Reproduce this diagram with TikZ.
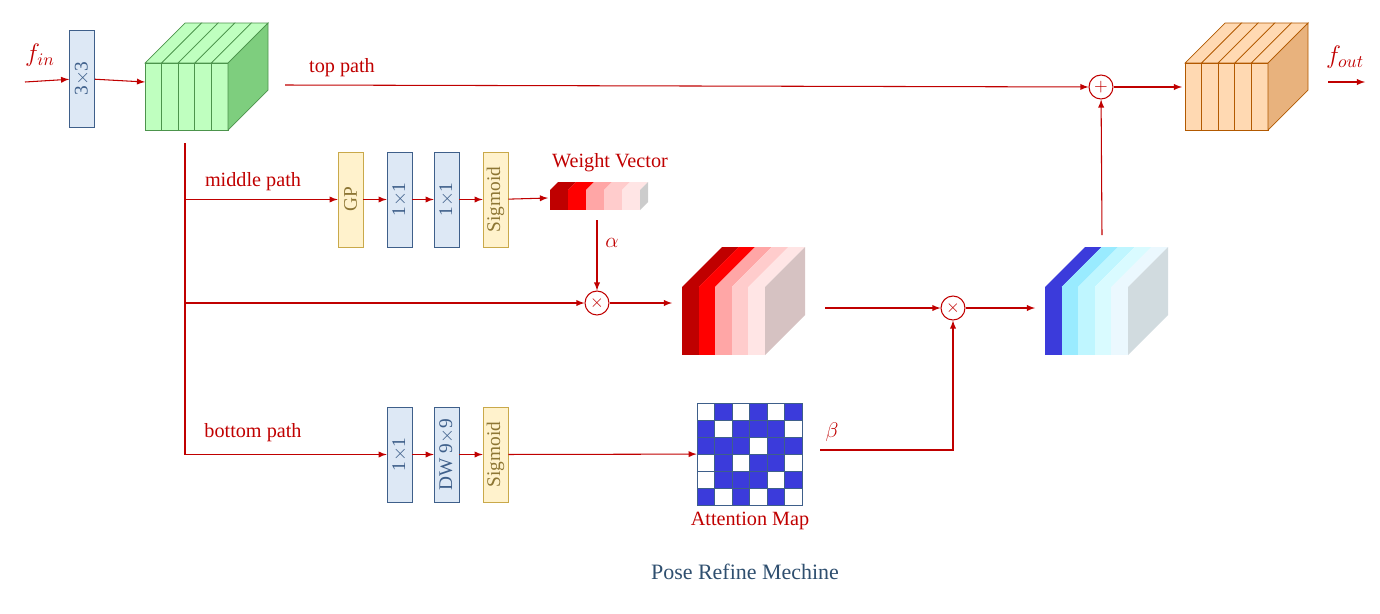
\documentclass[tikz,border=0pt]{standalone}
\usepackage{fontspec}
\setmainfont{Liberation Serif}
\usetikzlibrary{positioning}
\definecolor{pathred}{HTML}{C00000}
\definecolor{boxblue}{HTML}{DDE8F5}
\definecolor{boxedge}{HTML}{3E5F8A}
\definecolor{boxyellow}{HTML}{FFF2CC}
\definecolor{yedge}{HTML}{C9A94A}
\definecolor{capblue}{HTML}{2F4F6F}
\definecolor{mapblue}{HTML}{3B3BDB}
\tikzset{
  blk/.style={draw=boxedge, fill=boxblue, minimum width=0.5cm, inner sep=0pt, text=boxedge, font=\fontsize{11}{11}\selectfont},
  sig/.style={blk, draw=yedge, fill=boxyellow, text=yedge!70!black},
  arr/.style={->, >=latex, pathred, line width=0.6pt},
  ln/.style={pathred, line width=0.6pt},
  op/.style={circle, draw=pathred, line width=0.6pt, minimum size=0.48cm, inner sep=0pt, text=pathred},
  lbl/.style={text=pathred, font=\fontsize{11.5}{12}\selectfont}
}
% feature cube: x0, y0 (top-left of front), slice width, height, depth, colour list, side colour, edge colour
\newcommand\featcube[8]{
  \foreach \c [count=\k from 0] in {#6}{
    \pgfmathsetmacro\xa{#1+\k*#3}
    \pgfmathsetmacro\xb{#1+(\k+1)*#3}
    \fill[\c, draw=#8] (\xa,#2) -- (\xa+#5,#2-#5) -- (\xb+#5,#2-#5) -- (\xb,#2) -- cycle;
    \fill[\c, draw=#8] (\xa,#2) rectangle (\xb,#2+#4);
  }
  \pgfmathsetmacro\xe{#1+5*#3}
  \fill[#7, draw=#8] (\xe,#2) -- (\xe+#5,#2-#5) -- (\xe+#5,#2+#4-#5) -- (\xe,#2+#4) -- cycle;
}
\begin{document}
\begin{tikzpicture}[x=0.02cm, y=-0.02cm]
\useasboundingbox (0,0) rectangle (1380,613);

% cubes
\featcube{145}{63}{16.6}{67}{40}{{green!25!white},{green!25!white},{green!25!white},{green!25!white},{green!25!white}}{green!45!gray!70}{green!40!black!70}
\featcube{1185}{63}{16.6}{67}{40}{{orange!30!white},{orange!30!white},{orange!30!white},{orange!30!white},{orange!30!white}}{orange!40!brown!60}{orange!70!black}
\featcube{682}{287}{16.6}{68}{40}{{red!75!black},{red},{red!35},{red!20},{red!10}}{red!20!gray!40}{none}
\featcube{1045}{287}{16.6}{68}{40}{{mapblue},{blue!20!cyan!40},{blue!15!cyan!25},{blue!10!cyan!15},{cyan!8}}{cyan!20!gray!35}{none}
% weight vector
\featcube{550}{190}{18}{20}{8}{{red!75!black},{red},{red!35},{red!20},{red!10}}{gray!40}{none}

% named points on the cubes
\coordinate (gin) at (145,82);
\coordinate (gout) at (285,85);
\coordinate (gbot) at (185,143);
\coordinate (oin) at (1182,87);
\coordinate (oout) at (1328,82);
\coordinate (rin) at (672,303);
\coordinate (rout) at (825,308);
\coordinate (bin) at (1035,308);
\coordinate (btop) at (1102,235);
\coordinate (win) at (548,198);
\coordinate (wout) at (597,220);
\coordinate (fin) at (25,82);
\coordinate (fend) at (1365,82);

% boxes
\node[blk, minimum height=1.94cm] (c33) at (82,78.5) {\rotatebox{90}{3$\times$3}};
\node[sig, minimum height=1.9cm] (gp) at (350.5,199.5) {\rotatebox{90}{GP}};
\node[blk, minimum height=1.9cm] (m11a) at (399.5,199.5) {\rotatebox{90}{1$\times$1}};
\node[blk, minimum height=1.9cm] (m11b) at (446.5,199.5) {\rotatebox{90}{1$\times$1}};
\node[sig, minimum height=1.9cm] (msig) at (495.5,199.5) {\rotatebox{90}{Sigmoid}};
\node[blk, minimum height=1.9cm] (b11) at (399.5,454.5) {\rotatebox{90}{1$\times$1}};
\node[blk, minimum height=1.9cm] (bdw) at (446.5,454.5) {\rotatebox{90}{DW 9$\times$9}};
\node[sig, minimum height=1.9cm] (bsig) at (495.5,454.5) {\rotatebox{90}{Sigmoid}};

% operators
\node[op, font=\bfseries] (plus) at (1101,87) {$+$};
\node[op] (mul1) at (597,303) {$\times$};
\node[op] (mul2) at (953,308) {$\times$};

% attention map
\foreach \row [count=\r from 0] in {{0,1,0,1,0,1},{1,0,1,1,1,0},{1,1,1,0,1,1},{0,1,0,1,1,0},{0,1,1,1,0,1},{1,0,1,0,1,0}}{
  \foreach \v [count=\c from 0] in \row {
    \ifnum\v=1 \def\cc{mapblue}\else\def\cc{white}\fi
    \filldraw[fill=\cc, draw=boxedge] (697+\c*17.5,403+\r*17) rectangle ++(17.5,17);
  }
}
\node[draw=none, minimum width=2.1cm, minimum height=2.04cm] (amap) at (749.5,454) {};

% labels
\node[lbl, font=\fontsize{14}{14}\selectfont] at (40,55) {$f_{in}$};
\node[lbl, font=\fontsize{14}{14}\selectfont] at (1345,57) {$f_{out}$};
\node[lbl] at (342,68) {top path};
\node[lbl] at (253,182) {middle path};
\node[lbl] at (253,433) {bottom path};
\node[lbl] at (610,163) {Weight Vector};
\node[lbl] at (750,521) {Attention Map};
\node[lbl] at (612,243) {$\alpha$};
\node[lbl] at (832,432) {$\beta$};
\node[text=capblue, font=\fontsize{12.5}{13}\selectfont] at (745,572) {Pose Refine Mechine};

% top path
\draw[arr] (fin) -- (c33);
\draw[arr] (c33) -- (gin);
\draw[arr] (gout) -- (plus);
\draw[arr] (plus) -- (oin);
\draw[arr] (oout) -- (fend);
\draw[ln] (gbot) -- (185,455);

% middle path
\draw[arr] (185,199.5) -- (gp);
\draw[arr] (gp) -- (m11a);
\draw[arr] (m11a) -- (m11b);
\draw[arr] (m11b) -- (msig);
\draw[arr] (msig) -- (win);
\draw[arr] (wout) -- (mul1);
\draw[arr] (185,303) -- (mul1);
\draw[arr] (mul1) -- (rin);
\draw[arr] (rout) -- (mul2);
\draw[arr] (mul2) -- (bin);
\draw[arr] (btop) -- (plus);

% bottom path
\draw[arr] (185,454.5) -- (b11);
\draw[arr] (b11) -- (bdw);
\draw[arr] (bdw) -- (bsig);
\draw[arr] (bsig) -- (amap);
\draw[arr] (820,450) -| (mul2);
\end{tikzpicture}
\end{document}
